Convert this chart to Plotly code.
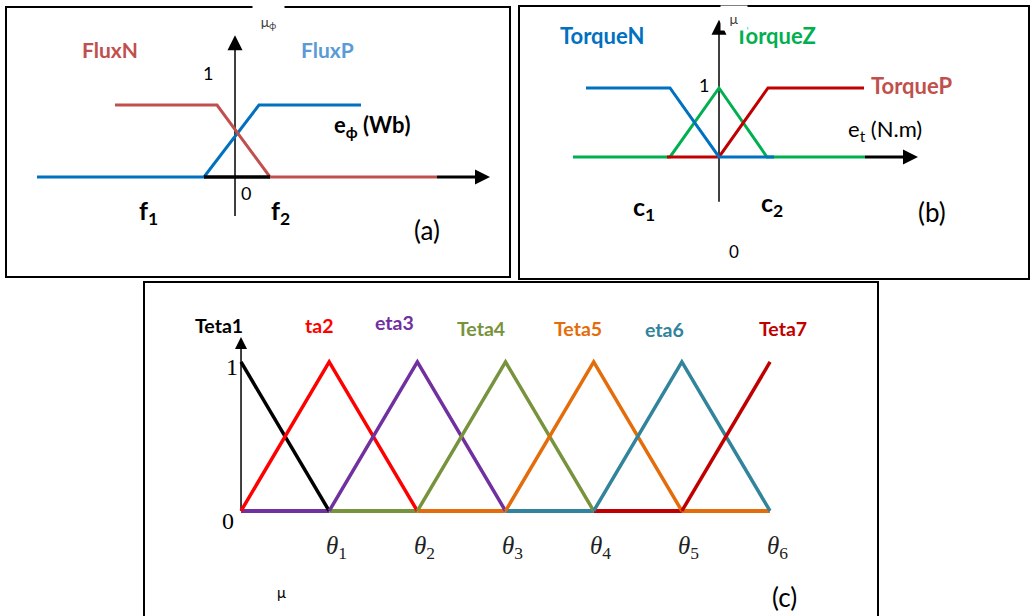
import plotly.graph_objects as go

# ---------------- data ----------------
# Panel (a): flux error membership functions (x in arbitrary units, 0 = vertical axis)
fluxN_x = [-12.0, -1.8, 3.5, 20.2]
fluxN_mu = [1, 1, 0, 0]
fluxP_x = [-19.8, -3.1, 2.4, 12.6]
fluxP_mu = [0, 0, 1, 1]
flux_zero_x = [-3.1, 3.5]
flux_axis_end = 25.5

# Panel (b): torque error membership functions
torqueZ_x = [-14.6, -4.9, 0.0, 4.8, 14.6]
torqueZ_mu = [0, 0, 1, 0, 0]
torqueP_x = [-5.2, 0.0, 4.9, 14.5]
torqueP_mu = [0, 0, 1, 1]
torqueN_x = [-13.3, -4.9, 0.0, 5.5]
torqueN_mu = [1, 1, 0, 0]
torque_axis_end = 19.9

# Panel (c): angle membership functions (x in units of theta_k)
teta_names = ["Teta1", "Teta2", "Teta3", "Teta4", "Teta5", "Teta6", "Teta7"]
teta_x = [[0, 1], [0, 1, 2], [1, 2, 3], [2, 3, 4], [3, 4, 5], [4, 5, 6], [5, 6]]
teta_mu = [[1, 0], [0, 1, 0], [0, 1, 0], [0, 1, 0], [0, 1, 0], [0, 1, 0], [0, 1]]
teta_colors = ["#000000", "#FF0000", "#7030A0", "#77933C", "#E46C0A", "#31849B", "#C00000"]
base_x = [[0, 1], [1, 2], [2, 3], [3, 4], [4, 5], [5, 6]]
base_colors = ["#7030A0", "#77933C", "#E46C0A", "#31849B", "#C00000", "#E46C0A"]
theta_ticks = [1, 2, 3, 4, 5, 6]

BLUE = "#0070C0"
RED = "#C0504D"
GREEN = "#00B050"
FONT = "Lato"

fig = go.Figure()

def line(x, y, color, width, ax):
    fig.add_trace(go.Scatter(x=x, y=y, mode="lines", line=dict(color=color, width=width),
                             xaxis="x" + ax, yaxis="y" + ax, hoverinfo="skip", showlegend=False))

def arrow(x, y, symbol, size, ax):
    fig.add_trace(go.Scatter(x=[x], y=[y], mode="markers",
                             marker=dict(symbol=symbol, size=size, color="black", line=dict(width=0)),
                             xaxis="x" + ax, yaxis="y" + ax, hoverinfo="skip", showlegend=False))

# ---- panel a ----
line([0, 0], [-0.54, 1.9], "black", 1.5, "")
line(fluxP_x, fluxP_mu, BLUE, 3, "")
line(fluxN_x, fluxN_mu, RED, 3, "")
line(flux_zero_x, [0, 0], "black", 3.5, "")
line([fluxN_x[-1], flux_axis_end - 1], [0, 0], "black", 3, "")
arrow(0, 1.97, "arrow-up", 15, "")
arrow(flux_axis_end, 0, "arrow-right", 15, "")

# ---- panel b ----
line([0, 0], [-0.65, 1.9], "black", 1.5, "2")
line(torqueZ_x, torqueZ_mu, GREEN, 3, "2")
line(torqueP_x, torqueP_mu, "#C00000", 3, "2")
line(torqueN_x, torqueN_mu, BLUE, 3, "2")
line([torqueZ_x[-1], torque_axis_end - 1], [0, 0], "black", 3, "2")
arrow(0, 1.99, "arrow-up", 15, "2")
arrow(torque_axis_end, 0, "arrow-right", 15, "2")

# ---- panel c ----
line([0, 0], [0, 1.1], "black", 1.5, "3")
for bx, bc in zip(base_x, base_colors):
    line(bx, [0, 0], bc, 4, "3")
for tx, ty, tc in zip(teta_x, teta_mu, teta_colors):
    line(tx, ty, tc, 3.5, "3")
arrow(0, 1.168, "arrow-up", 12, "3")

# ---------------- annotations ----------------
ann = []
def txt(x, y, text, ax, size, color="black", bold=False, family=FONT, **kw):
    t = f"<b>{text}</b>" if bold else text
    d = dict(x=x, y=y, xref="x" + ax, yref="y" + ax, text=t, showarrow=False,
             font=dict(family=family, size=size, color=color))
    d.update(kw)
    ann.append(d)

# a
txt(3.3, 2.15, "μ<sub>ϕ</sub>", "", 14, "#404040", bgcolor="white", height=30, width=29)
txt(-12.5, 1.764, "FluxN", "", 21, RED, True)
txt(9.2, 1.764, "FluxP", "", 21, "#5B9BD5", True)
txt(-2.7, 1.444, "1", "", 18)
txt(13.7, 0.708, "e<sub>ϕ</sub> (Wb)", "", 22, bold=True)
txt(1.1, -0.222, "0", "", 18)
txt(-8.7, -0.486, "f<sub>1</sub>", "", 25, bold=True)
txt(4.5, -0.486, "f<sub>2</sub>", "", 25, bold=True)
txt(19.2, -0.736, "(a)", "", 26)
# b
txt(-11.7, 1.768, "TorqueN", "2", 22, BLUE, True)
txt(5.6, 1.754, "TorqueZ", "2", 22, GREEN, True)
txt(1.5, 2.01, "μ", "2", 14, "#404040", bgcolor="white", height=22, width=24)
txt(-1.5, 1.043, "1", "2", 18)
txt(19.2, 1.043, "TorqueP", "2", 22, RED, True)
txt(16.6, 0.391, "e<sub>t</sub> (N.m)", "2", 22)
txt(-7.5, -0.739, "c<sub>1</sub>", "2", 25, bold=True)
txt(5.3, -0.681, "c<sub>2</sub>", "2", 25, bold=True)
txt(21.3, -0.797, "(b)", "2", 26)
txt(1.5, -1.377, "0", "2", 17)
# c
teta_label_x = [-0.25, 0.885, 1.735, 2.722, 3.822, 4.80, 6.147]
teta_label_y = [1.248, 1.248, 1.262, 1.228, 1.228, 1.215, 1.228]
teta_label_txt = ["Teta1", "ta2", "eta3", "Teta4", "Teta5", "eta6", "Teta7"]
for lx, ly, lt, lc in zip(teta_label_x, teta_label_y, teta_label_txt, teta_colors):
    txt(lx, ly, lt, "3", 19.5, lc, True)
txt(-0.10, 0.966, "1", "3", 24, family="Liberation Serif")
txt(-0.147, -0.067, "0", "3", 24, family="Liberation Serif")
for k in theta_ticks:
    txt(k + 0.08, -0.242, f"<i>θ</i><sub>{k}</sub>", "3", 25, "#222222", family="Liberation Serif")
txt(0.454, -0.544, "μ", "3", 15)
txt(6.16, -0.577, "(c)", "3", 26)

# ---------------- axes ----------------
def hidden(**kw):
    d = dict(showgrid=False, zeroline=False, showticklabels=False, ticks="", fixedrange=True)
    d.update(kw)
    return d

frame = dict(showline=True, linecolor="black", linewidth=2, mirror=True)

fig.update_layout(
    width=1030, height=616, margin=dict(l=0, r=0, t=0, b=0),
    paper_bgcolor="white", plot_bgcolor="rgba(0,0,0,0)",
    xaxis=hidden(domain=[7/1030, 509/1030], range=[-22.8, 27.4], anchor="y", **frame),
    yaxis=hidden(domain=[340/616, 608/616], range=[-1.375, 2.347], anchor="x", **frame),
    xaxis2=hidden(domain=[520/1030, 1028/1030], range=[-19.9, 30.9], anchor="y2", **frame),
    yaxis2=hidden(domain=[338/616, 609/616], range=[-1.754, 2.174], anchor="x2", **frame),
    xaxis3=hidden(domain=[145/1030, 877/1030], range=[-1.089, 7.213], anchor="y3",
                  showline=True, linecolor="black", linewidth=2, side="top"),
    yaxis3=hidden(domain=[0, 333/616], range=[-0.705, 1.530], anchor="x3", **frame),
    annotations=ann,
)

fig.write_html("out.html")
